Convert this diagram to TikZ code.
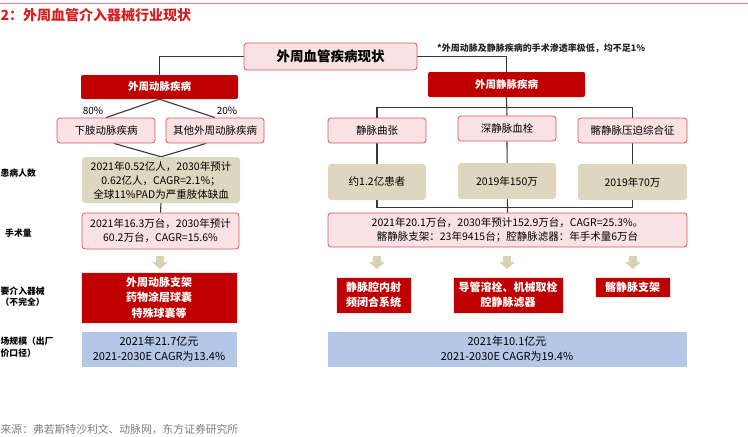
\documentclass[tikz,border=0pt]{standalone}
\usepackage{fontspec}
\setmainfont{Noto Sans CJK SC}
\usetikzlibrary{calc,backgrounds}

\definecolor{darkred}{RGB}{192,0,0}
\definecolor{boxred}{RGB}{224,82,88}
\definecolor{pinkfill}{RGB}{249,226,228}
\definecolor{tanfill}{RGB}{222,214,190}
\definecolor{bluefill}{RGB}{180,199,231}
\definecolor{arrowtan}{RGB}{218,208,178}
\definecolor{linegray}{RGB}{55,55,55}
\definecolor{titlered}{RGB}{214,30,30}
\definecolor{srcgray}{RGB}{125,125,125}

\newcommand{\setfs}[2]{\fontsize{#1}{#2}\selectfont}
% block arrow pointing down, centred on a named coordinate
\newcommand{\downarr}[1]{\fill[arrowtan] (#1) ++(-4,-6) -- ++(8,0) -- ++(0,6) -- ++(4,0) -- ++(-8,7) -- ++(-8,-7) -- ++(4,0) -- cycle;}

\tikzset{
  rootbox/.style={draw=boxred, fill=pinkfill, rounded corners=3pt, line width=0.8pt, inner sep=0pt, font=\setfs{13.5}{16}\bfseries},
  groupbox/.style={fill=darkred, text=white, rounded corners=2pt, inner sep=0pt, font=\setfs{10.5}{14}\bfseries},
  pinkbox/.style={draw=boxred, fill=pinkfill, rounded corners=3pt, line width=0.8pt, inner sep=0pt, align=center, font=\setfs{10.5}{14}},
  tanbox/.style={fill=tanfill, rounded corners=3pt, inner sep=0pt, align=center, font=\setfs{10.5}{14}},
  devbox/.style={fill=darkred, draw=pinkfill, line width=0.5pt, text=white, inner sep=0pt, align=center, font=\setfs{11}{15.5}\bfseries},
  mktbox/.style={fill=bluefill, draw=white, line width=0.5pt, inner sep=0pt, align=center, font=\setfs{11}{15}},
  link/.style={draw=linegray, line width=1.1pt},
  pct/.style={inner sep=0pt, font=\setfs{10}{12}},
  sidelabel/.style={inner sep=0pt, anchor=west, align=left, font=\setfs{8.8}{11.5}\bfseries}
}

\begin{document}
\begin{tikzpicture}[x=1pt,y=-1pt]
\useasboundingbox (0,0) rectangle (748,437);

% header
\draw[titlered!60, line width=0.8pt] (0,3) -- (748,3);
\node[anchor=west, inner sep=0pt, text=titlered, font=\setfs{14}{16}\bfseries] (title) at (0.5,15) {2：外周血管介入器械行业现状};

% top level
\node[rootbox, minimum width=173, minimum height=27] (root) at (330.5,56.5) {外周血管疾病现状};
\node[anchor=west, inner sep=0pt, font=\setfs{9}{10}\bfseries, text=black!85] (note) at (437,48) {*外周动脉及静脉疾病的手术渗透率极低，均不足1\%};
\node[groupbox, minimum width=157, minimum height=24] (art) at (159.5,87) {外周动脉疾病};
\node[groupbox, minimum width=157, minimum height=25] (ven) at (506.5,84.5) {外周静脉疾病};

% arterial column
\node[pinkbox, minimum width=98, minimum height=25] (art1) at (106,130.5) {下肢动脉疾病};
\node[pinkbox, minimum width=98, minimum height=25] (art2) at (215,130.5) {其他外周动脉疾病};
\node[pct] (p80) at (93,111) {80\%};
\node[pct] (p20) at (227,111) {20\%};
\node[tanbox, minimum width=158, minimum height=46] (artpat) at (161,180) {2021年0.52亿人，2030年预计\\0.62亿人，CAGR=2.1\%；\\全球11\%PAD为严重肢体缺血};
\node[pinkbox, minimum width=157, minimum height=36] (artops) at (160.5,231) {2021年16.3万台，2030年预计\\60.2万台，CAGR=15.6\%};
\node[devbox, minimum width=156, minimum height=51] (artdev) at (159,297.5) {外周动脉支架\\药物涂层球囊\\特殊球囊等};
\node[mktbox, minimum width=156, minimum height=36] (artmkt) at (159,349) {2021年21.7亿元\\2021-2030E CAGR为13.4\%};

% venous column
\node[pinkbox, minimum width=98, minimum height=25] (ven1) at (377,130.5) {静脉曲张};
\node[pinkbox, minimum width=98, minimum height=25] (ven2) at (507,128.5) {深静脉血栓};
\node[pinkbox, minimum width=109, minimum height=25] (ven3) at (632.5,130.5) {髂静脉压迫综合征};
\node[tanbox, minimum width=98, minimum height=36] (venpat1) at (377,182) {约1.2亿患者};
\node[tanbox, minimum width=98, minimum height=36] (venpat2) at (507,181) {2019年150万};
\node[tanbox, minimum width=109, minimum height=36] (venpat3) at (632.5,182) {2019年70万};
\node[pinkbox, minimum width=359, minimum height=34] (venops) at (507.5,230) {2021年20.1万台，2030年预计152.9万台，CAGR=25.3\%。\\髂静脉支架：23年9415台；腔静脉滤器：年手术量6万台};
\node[devbox, minimum width=75, minimum height=36] (vendev1) at (373.5,295) {静脉腔内射\\频闭合系统};
\node[devbox, minimum width=110, minimum height=36] (vendev2) at (508,295) {导管溶栓、机械取栓\\腔静脉滤器};
\node[devbox, minimum width=75, minimum height=20] (vendev3) at (632.5,287) {髂静脉支架};
\node[mktbox, minimum width=360, minimum height=36] (venmkt) at (507,349) {2021年10.1亿元\\2021-2030E CAGR为19.4\%};

% row labels
\node[sidelabel] (lblpat) at (0.5,173) {患病人数};
\node[sidelabel] (lblops) at (5,233) {手术量};
\node[sidelabel] (lbldev) at (0.5,296.5) {要介入器械\\（不完全）};
\node[sidelabel] (lblmkt) at (0.5,347) {场规模（出厂\\价口径）};

% source
\node[anchor=west, inner sep=0pt, text=srcgray, font=\setfs{10.8}{13}] (src) at (0.5,429) {来源：弗若斯特沙利文、动脉网，东方证券研究所};

% arrows
\coordinate (arrA) at (160,262);
\coordinate (arrV1) at (377,262);
\coordinate (arrV2) at (507,262);
\coordinate (arrV3) at (633,262);
\downarr{arrA}
\downarr{arrV1}
\downarr{arrV2}
\downarr{arrV3}

% connectors
\begin{scope}[on background layer]
\draw[link] (root.west) -| (art.north);
\draw[link] (root.east) -| (ven.north);
\draw[link] (art1.north) -- (art.south) -- (art2.north);
\draw[link] ($(art1.south)+(8,0)$) -- (artpat.north) -- ($(art2.south)+(-9,0)$);
\draw[link] (artpat.south) -- (artops.north);
\draw[link] (ven.south) -- (ven2.north);
\draw[link] (ven1.north) -- ++(0,-10) -| (ven3.north);
\draw[link] (ven1.south) -- ++(0,64) -| (ven3.south);
\draw[link] (ven2.south) -- (venops.north);
\end{scope}

\end{tikzpicture}
\end{document}
